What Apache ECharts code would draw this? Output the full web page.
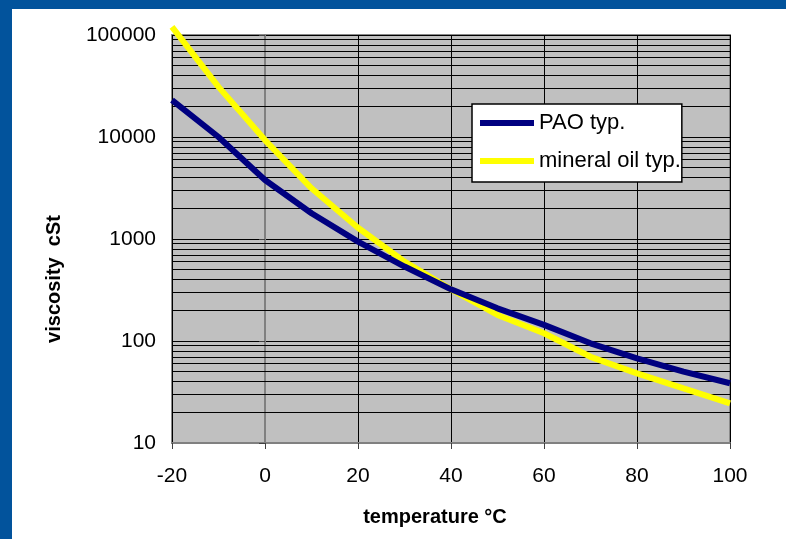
<!DOCTYPE html>
<html>
<head>
<meta charset="utf-8">
<script src="https://cdn.jsdelivr.net/npm/echarts@6/dist/echarts.min.js"></script>
<style>
html,body{margin:0;padding:0;background:#fff;}
#c{width:786px;height:539px;}
</style>
</head>
<body>
<div id="c"></div>
<script>
var temperatures = [-20, -10, 0, 10, 20, 30, 40, 50, 60, 70, 80, 90, 100];
var paoViscosity = [23000, 10000, 3790, 1790, 942, 537, 321, 209, 144, 95, 67.6, 50, 38.5];
var mineralViscosity = [120000, 31000, 9330, 3140, 1290, 599, 321, 180, 119, 70, 48.2, 34.3, 24.5];
var seriesNames = ['PAO typ.', 'mineral oil typ.'];
var xTicks = [-20, 0, 20, 40, 60, 80, 100];
var yTicks = [10, 100, 1000, 10000, 100000];
var minorGridValues = [20,30,40,50,60,70,80,90,200,300,400,500,600,700,800,900,2000,3000,4000,5000,6000,7000,8000,9000,20000,30000,40000,50000,60000,70000,80000,90000];

function pairs(xs, ys){ return xs.map(function(x,i){ return [x, ys[i]]; }); }

var FONT = "'Liberation Sans', Arial, sans-serif";
var chart = echarts.init(document.getElementById('c'), null, {renderer:'canvas'});
chart.setOption({
  animation: false,
  backgroundColor: '#ffffff',
  grid: {
    left: 172, right: 56, top: 35, bottom: 96,
    show: true, backgroundColor: '#c0c0c0', borderColor: '#8a8a8a', borderWidth: 2
  },
  xAxis: {
    type: 'value', min: xTicks[0], max: xTicks[xTicks.length-1], interval: 20,
    axisLine: {show: true, onZero: false, lineStyle: {color: '#808080', width: 2}},
    axisTick: {show: true, length: 6, lineStyle: {color: '#404040', width: 1}},
    axisLabel: {margin: 23, fontFamily: FONT, fontSize: 21, color: '#000'},
    splitLine: {show: true, lineStyle: {color: '#000', width: 1}}
  },
  yAxis: {
    type: 'log', logBase: 10, min: yTicks[0], max: yTicks[yTicks.length-1],
    axisLine: {show: true, lineStyle: {color: '#808080', width: 2}},
    axisTick: {show: true, length: 6, lineStyle: {color: '#404040', width: 1}},
    axisLabel: {margin: 16, fontFamily: FONT, fontSize: 21, color: '#000',
      formatter: function(v){ return String(Math.round(v)); }},
    splitLine: {show: true, lineStyle: {color: '#000', width: 1}}
  },
  legend: {
    orient: 'vertical', left: 472, top: 104,
    padding: [8, 1, 10, 8], itemGap: 16,
    itemWidth: 54, itemHeight: 6, icon: 'rect',
    backgroundColor: '#fff', borderColor: '#000', borderWidth: 1.5, borderRadius: 0,
    textStyle: {fontFamily: FONT, fontSize: 22, color: '#000'},
    data: seriesNames
  },
  series: [
    {
      name: seriesNames[0], type: 'line', data: pairs(temperatures, paoViscosity),
      showSymbol: false, symbol: 'none', clip: false, smooth: false, z: 4,
      lineStyle: {color: '#000080', width: 6}, itemStyle: {color: '#000080'},
      markLine: {
        silent: true, symbol: 'none', label: {show: false}, z: 1,
        lineStyle: {color: '#000', width: 1, type: 'solid'},
        data: minorGridValues.map(function(v){ return {yAxis: v}; })
      }
    },
    {
      name: seriesNames[1], type: 'line', data: pairs(temperatures, mineralViscosity),
      showSymbol: false, symbol: 'none', clip: false, smooth: false, z: 3,
      lineStyle: {color: '#ffff00', width: 6}, itemStyle: {color: '#ffff00'}
    }
  ],
  graphic: [
    {type: 'rect', shape: {x: 0, y: 0, width: 786, height: 9}, style: {fill: '#02539c'}, z: 100},
    {type: 'rect', shape: {x: 0, y: 0, width: 12, height: 539}, style: {fill: '#02539c'}, z: 100},
    {type: 'text', x: 435, y: 517, style: {text: 'temperature °C', font: 'bold 20px ' + FONT, fill: '#000', textAlign: 'center', textVerticalAlign: 'middle'}},
    {type: 'text', x: 54, y: 279, rotation: Math.PI/2, style: {text: 'viscosity  cSt', font: 'bold 20px ' + FONT, fill: '#000', textAlign: 'center', textVerticalAlign: 'middle'}}
  ]
});
</script>
</body>
</html>
